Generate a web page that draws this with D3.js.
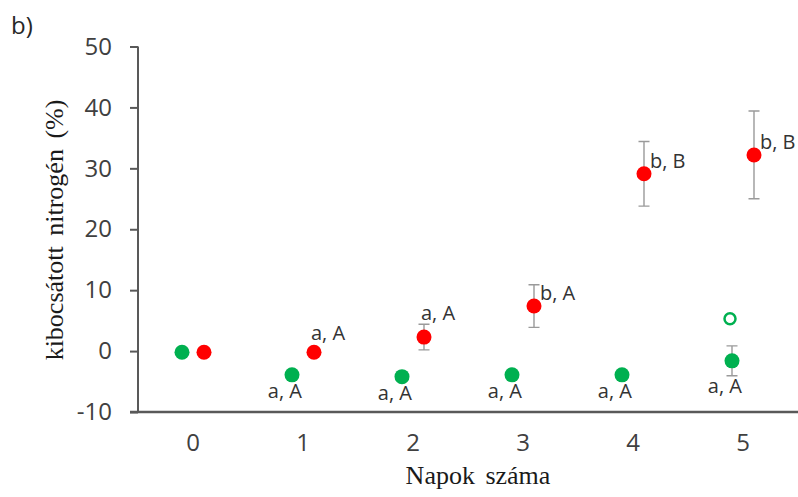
<!DOCTYPE html>
<html>
<head>
<meta charset="utf-8">
<script src="https://cdn.jsdelivr.net/npm/d3@7"></script>
<style>
  body { margin: 0; background: #fff; }
  svg { display: block; }
</style>
</head>
<body>
<svg id="chart" width="798" height="497"></svg>
<script>
// values (b panel)
const days = ['0', '1', '2', '3', '4', '5'];
const greenValues = [-0.2, -3.9, -4.2, -3.9, -3.9, -1.6];
const greenErrors = [0, 0, 0, 0, 0, 2.45];
const greenLabels = [null, 'a, A', 'a, A', 'a, A', 'a, A', 'a, A'];
const redValues = [-0.2, -0.2, 2.3, 7.4, 29.1, 32.2];
const redErrors = [0, 0, 2.1, 3.5, 5.3, 7.2];
const redLabels = [null, 'a, A', 'a, A', 'b, A', 'b, B', 'b, B'];
const outlierDay = '5';
const outlierValue = 5.3;
const yTicks = [-10, 0, 10, 20, 30, 40, 50];

const GREEN = '#00b050', RED = '#ff0000';
const sans = '"Open Sans", sans-serif';
const serif = '"Liberation Serif", "Times New Roman", serif';

const svg = d3.select('#chart');

const x = d3.scaleBand().domain(days).range([138, 798]).padding(0);
const y = d3.scaleLinear().domain([-10, 50]).range([412, 46.5]);
const shift = x.bandwidth() * 0.1;

const greenX = d => x(d) + x.bandwidth() / 2 - shift;
const redX = d => x(d) + x.bandwidth() / 2 + shift;

// y axis (plain hyphen for negatives, like the original)
const yAxis = svg.append('g')
  .attr('transform', 'translate(138,0)')
  .call(d3.axisLeft(y).tickValues(yTicks).tickFormat(d => String(d)).tickSize(8).tickPadding(18));
yAxis.select('.domain').attr('stroke', '#595959').attr('stroke-width', 2)
  .attr('d', `M0,${y(50)}V${y(-10)}`);
yAxis.selectAll('.tick line').attr('stroke', '#595959').attr('stroke-width', 2);
yAxis.selectAll('.tick text')
  .attr('fill', '#404040')
  .style('font', `24px ${sans}`);

// x axis, only the line and labels
const xAxis = svg.append('g')
  .attr('transform', `translate(0,${y(-10)})`)
  .call(d3.axisBottom(x).tickSize(0).tickPadding(22));
xAxis.select('.domain').attr('stroke', '#595959').attr('stroke-width', 2.5)
  .attr('d', `M130,0H798`);
xAxis.selectAll('.tick text')
  .attr('fill', '#404040')
  .style('font', `24px ${sans}`);

// titles
svg.append('text')
  .attr('x', 478).attr('y', 484)
  .attr('text-anchor', 'middle')
  .attr('fill', '#1a1a1a')
  .style('font', `26px ${serif}`)
  .style('word-spacing', '4px')
  .text('Napok száma');

svg.append('text')
  .attr('transform', 'translate(63,230) rotate(-90)')
  .attr('text-anchor', 'middle')
  .attr('fill', '#1a1a1a')
  .style('font', `26px ${serif}`)
  .style('word-spacing', '4px')
  .text('kibocsátott nitrogén (%)');

svg.append('text')
  .attr('x', 11).attr('y', 34)
  .attr('fill', '#262626')
  .style('font', `24px ${sans}`)
  .text('b)');

// error bars
function errorBars(values, errors, xpos, cls) {
  const rows = days.map((d, i) => ({ d: d, v: values[i], e: errors[i] })).filter(r => r.e > 0);
  const g = svg.append('g').attr('class', cls)
    .attr('stroke', '#9a9a9a').attr('stroke-width', 1.4).attr('fill', 'none');
  g.selectAll('path').data(rows).join('path')
    .attr('d', r => {
      const cx = xpos(r.d), t = y(r.v + r.e), b = y(r.v - r.e);
      return `M${cx},${t}V${b}M${cx - 5.5},${t}H${cx + 5.5}M${cx - 5.5},${b}H${cx + 5.5}`;
    });
}
errorBars(greenValues, greenErrors, greenX, 'err-green');
errorBars(redValues, redErrors, redX, 'err-red');

// points
svg.append('g').selectAll('circle')
  .data(days.map((d, i) => ({ d: d, v: greenValues[i] })))
  .join('circle')
  .attr('cx', r => greenX(r.d)).attr('cy', r => y(r.v))
  .attr('r', 7.5).attr('fill', GREEN);

svg.append('g').selectAll('circle')
  .data(days.map((d, i) => ({ d: d, v: redValues[i] })))
  .join('circle')
  .attr('cx', r => redX(r.d)).attr('cy', r => y(r.v))
  .attr('r', 7.5).attr('fill', RED);

svg.append('circle')
  .attr('cx', greenX(outlierDay) - 2).attr('cy', y(outlierValue))
  .attr('r', 5.5).attr('fill', 'none')
  .attr('stroke', GREEN).attr('stroke-width', 2.5);

// letter labels
const labelFont = `20px ${sans}`;

svg.append('g').selectAll('text')
  .data(days.map((d, i) => ({ d: d, v: greenValues[i], e: greenErrors[i], t: greenLabels[i] })).filter(r => r.t))
  .join('text')
  .attr('x', r => greenX(r.d) + 10)
  .attr('y', r => Math.max(y(r.v) + 16, y(r.v - r.e) + 10))
  .attr('dy', '0.35em')
  .attr('text-anchor', 'end')
  .attr('fill', '#333')
  .style('font', labelFont)
  .text(r => r.t);

svg.append('g').selectAll('text')
  .data(days.map((d, i) => ({ d: d, v: redValues[i], e: redErrors[i], t: redLabels[i] })).filter(r => r.t))
  .join('text')
  .attr('x', r => r.e > 3 ? redX(r.d) + 6 : redX(r.d) - 3)
  .attr('y', r => r.e > 3 ? y(r.v) - 13 : Math.min(y(r.v) - 19, y(r.v + r.e) - 11))
  .attr('dy', '0.35em')
  .attr('fill', '#333')
  .style('font', labelFont)
  .text(r => r.t);
</script>
</body>
</html>
